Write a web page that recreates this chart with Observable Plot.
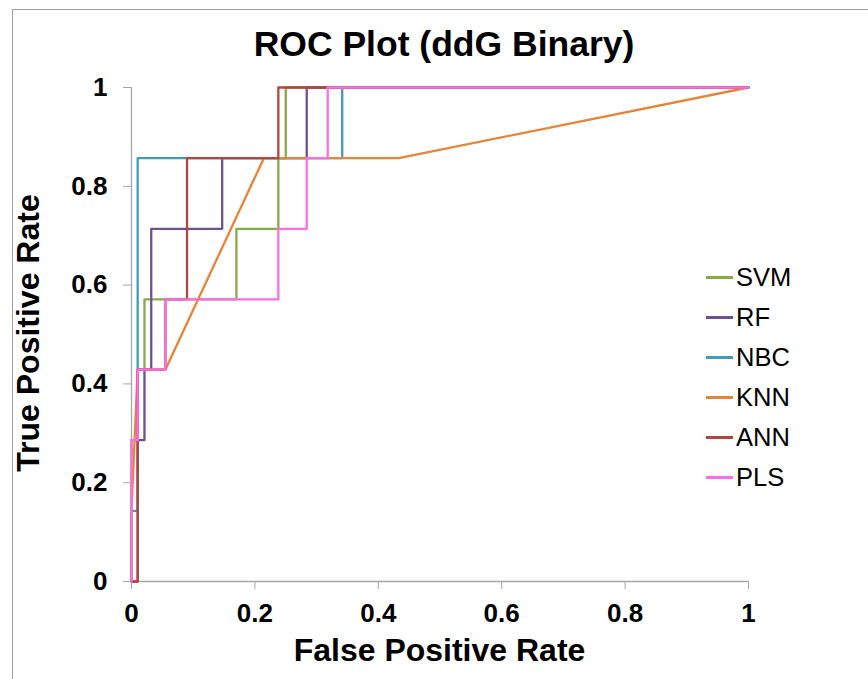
<!DOCTYPE html>
<html>
<head>
<meta charset="utf-8">
<script src="https://cdn.jsdelivr.net/npm/d3@7"></script>
<script src="https://cdn.jsdelivr.net/npm/@observablehq/plot@0.6"></script>
<style>
  html, body { margin: 0; padding: 0; background: #fff; }
  #wrap { position: relative; width: 868px; height: 679px; overflow: hidden; font-family: "Liberation Sans", Arial, sans-serif; }
  #frame { position: absolute; left: 12px; top: 9px; width: 900px; height: 700px; border-left: 1.5px solid #a0a0a0; border-top: 1.5px solid #a0a0a0; }
  #title { position: relative; height: 70px; box-sizing: border-box; padding-top: 27px; line-height: 35.5px; font-size: 35.5px; font-weight: bold; text-align: center; padding-left: 20px; }
  #chart { position: relative; }
  #chart svg { display: block; }
  #chart svg g[aria-label$="tick label"] text { font-weight: bold; }
  .axlabel { position: absolute; font-size: 32px; font-weight: bold; line-height: 32px; text-align: center; white-space: nowrap; }
  #xlabel { left: 239.5px; top: 634px; width: 400px; }
  #ylabel { left: -172px; top: 317px; width: 400px; transform: rotate(-90deg); transform-origin: 50% 50%; }
  .leg { position: absolute; left: 706px; width: 150px; height: 25px; }
  .leg .sw { position: absolute; left: 0; top: 10.5px; width: 27px; height: 3px; }
  .leg .tx { position: absolute; left: 30px; top: 0; font-size: 25.5px; line-height: 25px; }
</style>
</head>
<body>
<div id="wrap">
  <div id="frame"></div>
  <div id="title">ROC Plot (ddG Binary)</div>
  <div id="chart"></div>
  <div id="xlabel" class="axlabel">False Positive Rate</div>
  <div id="ylabel" class="axlabel">True Positive Rate</div>
  <div id="legend"></div>
</div>
<script>
// ---- data ----
const models = ["SVM", "RF", "NBC", "KNN", "ANN", "PLS"];
const colors = ["#88aa48", "#6b5393", "#3f9db8", "#e6843a", "#b5443f", "#ff6de6"];

const svmFpr = [0, 0, 0.01, 0.01, 0.021, 0.021, 0.17, 0.17, 0.238, 0.238, 0.25, 0.25, 1];
const svmTpr = [0, 0.286, 0.286, 0.429, 0.429, 0.571, 0.571, 0.714, 0.714, 0.857, 0.857, 1, 1];

const rfFpr = [0, 0.01, 0.01, 0.021, 0.021, 0.032, 0.032, 0.147, 0.147, 0.284, 0.284, 1];
const rfTpr = [0, 0, 0.286, 0.286, 0.429, 0.429, 0.714, 0.714, 0.857, 0.857, 1, 1];

const nbcFpr = [0, 0, 0.01, 0.01, 0.3415, 0.3415, 1];
const nbcTpr = [0, 0.143, 0.143, 0.857, 0.857, 1, 1];

const knnFpr = [0, 0, 0.01, 0.055, 0.2145, 0.433, 1];
const knnTpr = [0, 0.143, 0.429, 0.429, 0.857, 0.857, 1];

const annFpr = [0, 0.01, 0.01, 0.055, 0.055, 0.09, 0.09, 0.238, 0.238, 1];
const annTpr = [0, 0, 0.429, 0.429, 0.571, 0.571, 0.857, 0.857, 1, 1];

const plsFpr = [0, 0, 0.01, 0.01, 0.055, 0.055, 0.238, 0.238, 0.284, 0.284, 0.318, 0.318, 1];
const plsTpr = [0, 0.286, 0.286, 0.429, 0.429, 0.571, 0.571, 0.714, 0.714, 0.857, 0.857, 1, 1];

const xTicks = [0, 0.2, 0.4, 0.6, 0.8, 1];
const yTicks = [0, 0.2, 0.4, 0.6, 0.8, 1];

// ---- build table ----
const series = [
  ["SVM", svmFpr, svmTpr],
  ["RF", rfFpr, rfTpr],
  ["NBC", nbcFpr, nbcTpr],
  ["KNN", knnFpr, knnTpr],
  ["ANN", annFpr, annTpr],
  ["PLS", plsFpr, plsTpr]
];
const rows = [];
for (const [m, fx, ty] of series) fx.forEach((f, i) => rows.push({model: m, fpr: f, tpr: ty[i]}));

const axisGray = "#a6a6a6";
const plot = Plot.plot({
  width: 868,
  height: 609,
  marginTop: 17,
  marginBottom: 98,
  marginLeft: 131,
  marginRight: 120,
  style: {fontFamily: '"Liberation Sans", Arial, sans-serif', background: "transparent", overflow: "visible"},
  x: {domain: [0, 1]},
  y: {domain: [0, 1]},
  color: {domain: models, range: colors},
  marks: [
    Plot.ruleY([0], {stroke: axisGray, strokeWidth: 1.3}),
    Plot.ruleX([0], {stroke: axisGray, strokeWidth: 1.3}),
    Plot.axisX({ticks: xTicks, tickSize: 8, tickPadding: 14, tickFormat: d3.format("~g"), fontSize: 26, fontWeight: "bold", stroke: axisGray, fill: "black", label: null}),
    Plot.axisY({ticks: yTicks, tickSize: 8, tickPadding: 16, tickFormat: d3.format("~g"), fontSize: 26, fontWeight: "bold", stroke: axisGray, fill: "black", label: null}),
    Plot.line(rows, {x: "fpr", y: "tpr", z: "model", stroke: "model", strokeWidth: 2.3})
  ]
});
document.getElementById("chart").appendChild(plot);

// ---- legend ----
const leg = document.getElementById("legend");
const legTop = 265, legStep = 40;
models.forEach((m, i) => {
  const d = document.createElement("div");
  d.className = "leg";
  d.style.top = (legTop + i * legStep) + "px";
  d.innerHTML = `<div class="sw" style="background:${colors[i]}"></div><div class="tx">${m}</div>`;
  leg.appendChild(d);
});
</script>
</body>
</html>
